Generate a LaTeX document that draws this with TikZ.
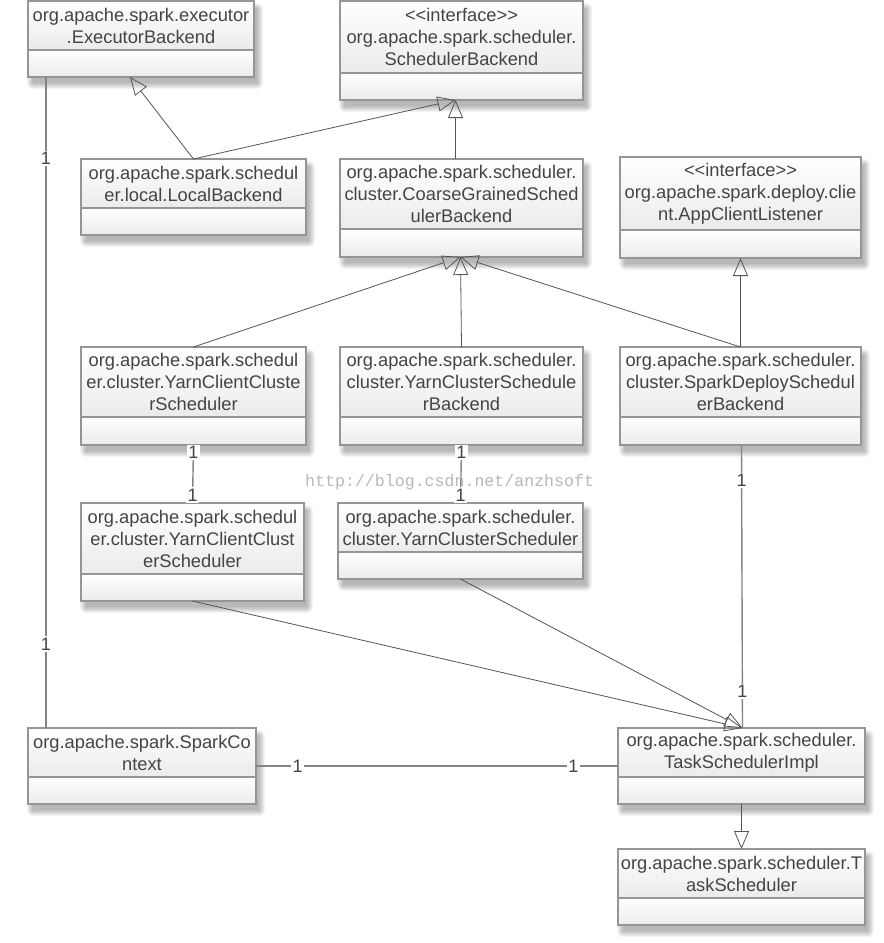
\documentclass[tikz,border=0pt]{standalone}
\usepackage{fontspec}
\setmainfont{Liberation Sans}
\newfontfamily\wmfont{Liberation Mono}
\usetikzlibrary{arrows.meta}
\definecolor{txtc}{HTML}{444444}
\definecolor{bordc}{HTML}{959595}
\definecolor{connc}{HTML}{555555}
\definecolor{assc}{HTML}{858585}
\definecolor{fillc}{HTML}{EBEBEB}
\tikzset{
  clsbox/.style={draw=none, fill=white, inner sep=0pt, outer sep=0pt, rectangle},
  boxline/.style={draw=bordc, line width=1.1pt},
  clstext/.style={align=center, text=txtc, font=\fontsize{18.3}{22}\selectfont, inner sep=0pt},
  gen/.style={draw=connc, line width=0.8pt, -{Triangle[open, length=18pt, width=15pt, line width=0.8pt]}},
  assoc/.style={draw=assc, line width=1.4pt},
  mult/.style={fill=white, text=txtc, font=\fontsize{18}{20}\selectfont, inner sep=1.5pt},
}
% name, x1, y1, x2, ysep, y2, text
\newcommand\umlclass[7]{%
  \foreach \k in {0,1,...,6}{%
    \fill[black, opacity=0.045, rounded corners=\k pt] ({#2+5-\k},{#3+8-\k}) rectangle ({#4+3+\k},{#6+6+\k});
  }
  \node[clsbox, minimum width={(#4-#2)*1pt}, minimum height={(#6-#3)*1pt}] (#1) at ({(#2+#4)/2},{(#3+#6)/2}) {};
  \shade[top color=white, bottom color=fillc] (#2,#3) rectangle (#4,#5);
  \shade[top color=white, bottom color=fillc] (#2,#5) rectangle (#4,#6);
  \draw[boxline] (#2,#3) rectangle (#4,#6);
  \draw[boxline] (#2,#5) -- (#4,#5);
  \node[clstext] at ({(#2+#4)/2},{(#3+#5)/2}) {#7};
}
\newcommand\stereo{<{}<interface>{}>}
\begin{document}
\begin{tikzpicture}[x=1pt, y=-1pt]
\useasboundingbox (0,0) rectangle (884,943);
\fill[white] (0,0) rectangle (884,943);

\umlclass{eb}{28}{1}{254}{50}{77}{org.apache.spark.executor\\.ExecutorBackend}
\umlclass{sb}{340}{1}{583}{73}{100}{\stereo\\org.apache.spark.scheduler.\\SchedulerBackend}
\umlclass{local}{81}{159}{306}{208}{235}{org.apache.spark.schedul\\er.local.LocalBackend}
\umlclass{coarse}{340}{159}{583}{229}{257}{org.apache.spark.scheduler.\\cluster.CoarseGrainedSched\\ulerBackend}
\umlclass{acl}{620}{157}{861}{230}{258}{\stereo\\org.apache.spark.deploy.clie\\nt.AppClientListener}
\umlclass{yccsa}{81}{347}{306}{417}{445}{org.apache.spark.schedul\\er.cluster.YarnClientCluste\\rScheduler}
\umlclass{ycsb}{340}{347}{583}{417}{445}{org.apache.spark.scheduler.\\cluster.YarnClusterSchedule\\rBackend}
\umlclass{sdsb}{620}{347}{861}{417}{445}{org.apache.spark.scheduler.\\cluster.SparkDeploySchedul\\erBackend}
\umlclass{yccsb}{81}{503}{304}{574}{601}{org.apache.spark.schedul\\er.cluster.YarnClientClust\\erScheduler}
\umlclass{ycs}{338}{503}{583}{552}{579}{org.apache.spark.scheduler.\\cluster.YarnClusterScheduler}
\umlclass{sc}{28}{728}{256}{777}{804}{org.apache.spark.SparkCo\\ntext}
\umlclass{tsi}{618}{728}{865}{777}{804}{org.apache.spark.scheduler.\\TaskSchedulerImpl}
\umlclass{ts}{618}{849}{865}{898}{925}{org.apache.spark.scheduler.T\\askScheduler}

% generalizations
\draw[gen] (local.north) -- ([xshift=-11pt]eb.south);
\draw[gen] (local.north) -- ([xshift=-6pt]sb.south);
\draw[gen] ([xshift=-6pt]coarse.north) -- ([xshift=-6pt]sb.south);
\draw[gen] (yccsa.north) -- ([xshift=-1pt]coarse.south);
\draw[gen] (ycsb.north) -- ([xshift=-1pt]coarse.south);
\draw[gen] (sdsb.north) -- ([xshift=-1pt]coarse.south);
\draw[gen] (sdsb.north) -- (acl.south);
\draw[gen] (yccsb.south) -- ([xshift=1pt]tsi.north);
\draw[gen] (ycs.south) -- ([xshift=1pt]tsi.north);
\draw[gen] (tsi.south) -- (ts.north);

% associations
\draw[assoc] ([xshift=18pt]eb.south west) -- ([xshift=18pt]sc.north west)
  node[mult, pos=0.125] {1} node[mult, pos=0.871] {1};
\draw[assoc] (sc.east) -- (tsi.west)
  node[mult, pos=0.115] {1} node[mult, pos=0.877] {1};
\draw[assoc] (yccsa.south) -- (yccsb.north)
  node[mult, pos=0.13] {1} node[mult, pos=0.86] {1};
\draw[assoc] (ycsb.south) -- (ycs.north)
  node[mult, pos=0.13] {1} node[mult, pos=0.86] {1};
\draw[assoc] ([xshift=1pt]sdsb.south) -- ([xshift=1pt]tsi.north)
  node[mult, pos=0.125] {1} node[mult, pos=0.87] {1};

% watermark
\node[text=black!28, font=\wmfont\fontsize{16.6}{18}\selectfont, inner sep=0pt, anchor=west] (wm) at (305,482) {http://blog.csdn.net/anzhsoft};
\end{tikzpicture}
\end{document}
